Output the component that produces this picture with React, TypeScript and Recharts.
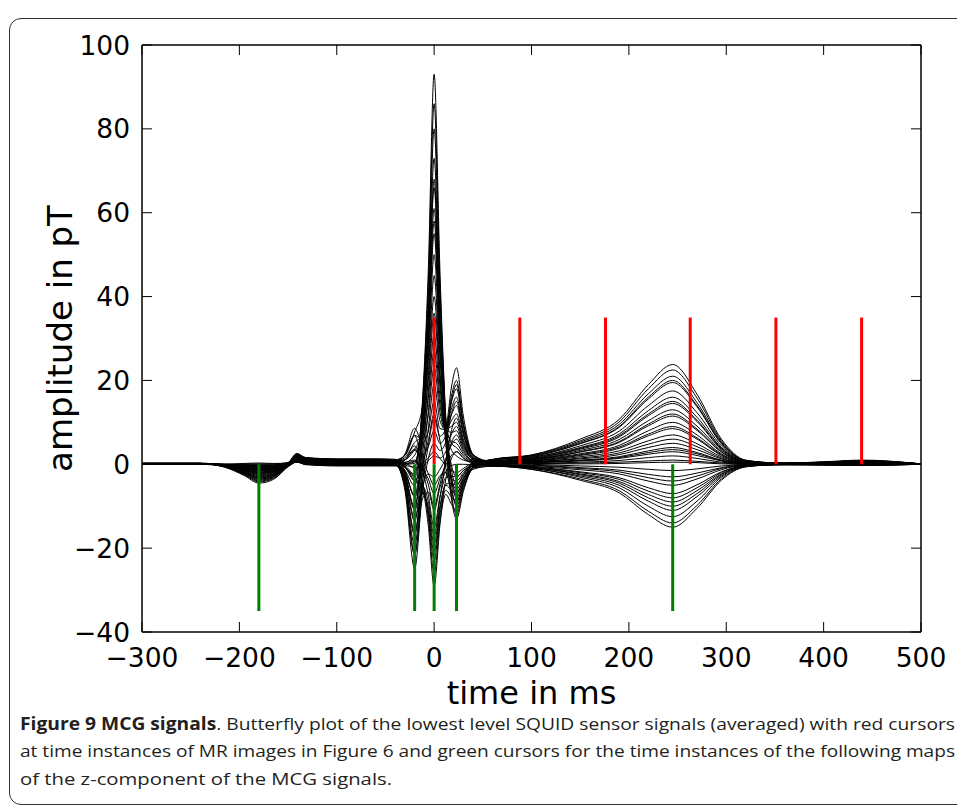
import { LineChart, Line, XAxis, YAxis, ReferenceLine, Label } from "recharts";

// sample times (ms) shared by every sensor trace
const times = [-300, -240, -215, -195, -180, -165, -150, -141, -132, -100, -60, -40, -30, -20, -12, -6, 0, 6, 12, 18, 23, 30, 40, 60, 100, 150, 190, 220, 245, 270, 295, 320, 360, 400, 440, 500];

// sensor traces in pT
const ch01 = [0.2, 0.2, -0.7, -2.7, -4.5, -3.6, -0.4, 1.8, 1.2, 1.0, 1.0, 0.9, -0.8, -2.3, 14.9, 46.2, 93, 46, 11, -5.2, -10, -5, -0.5, 1.1, 2.2, 6.0, 10.7, 19.0, 23.8, 16.7, 6.0, 1.0, 0.2, 0.5, 0.8, 0.1];
const ch02 = [0.2, 0.2, -0.6, -2.4, -4.0, -3.2, -0.1, 2.2, 1.5, 1.2, 1.2, 1.1, -0.2, -0.6, 14.3, 42.8, 86, 42.6, 10.5, -3.8, -8, -4, -0.2, 1.2, 2.2, 5.6, 10.1, 18.0, 22.5, 15.8, 5.6, 0.9, 0.3, 0.5, 0.9, 0.1];
const ch03 = [0.3, 0.3, -0.5, -2.2, -3.6, -2.9, 0.1, 2.6, 1.6, 1.1, 1.1, 1.0, 0.0, 0.2, 13.5, 39.9, 80, 39.8, 10.5, -1.6, -5, -2.5, 0.1, 1.1, 2.0, 5.3, 9.5, 16.8, 21, 14.7, 5.3, 0.8, 0.3, 0.6, 1.0, 0.1];
const ch04 = [0.2, 0.2, -0.5, -1.9, -3.2, -2.6, 0.0, 2.0, 1.2, 0.9, 0.9, 0.8, -1.4, -5.1, 10.7, 36.1, 73, 35.9, 7.4, -7.4, -12, -6, -0.8, 0.9, 1.8, 4.9, 8.8, 15.6, 19.5, 13.7, 4.9, 0.8, 0.2, 0.4, 0.7, 0.1];
const ch05 = [0.2, 0.2, -0.5, -1.8, -3.0, -2.4, -0.1, 1.6, 1.0, 0.8, 0.8, 0.7, 0.1, 0.6, 11.3, 32.9, 66, 32.9, 9.0, -0.4, -3, -1.5, 0.1, 0.8, 1.6, 4.4, 7.9, 14.0, 17.5, 12.3, 4.4, 0.7, 0.2, 0.4, 0.6, 0.1];
const ch06 = [0.2, 0.2, -0.4, -1.6, -2.7, -2.2, 0.2, 2.4, 1.6, 1.3, 1.3, 1.2, -1.6, -7.6, 8.0, 30.0, 61, 29.9, 5.3, -8.6, -13, -6.5, -0.7, 1.1, 1.7, 4.0, 7.2, 12.8, 16, 11.2, 4.0, 0.6, 0.3, 0.5, 0.9, 0.1];
const ch07 = [0.1, 0.1, -0.4, -1.5, -2.5, -2.0, -0.1, 1.2, 0.9, 0.7, 0.7, 0.6, 0.5, 2.2, 9.9, 27.5, 55, 27.6, 8.9, 3.3, 2, 1, 0.6, 0.7, 1.4, 3.6, 6.5, 11.6, 14.5, 10.2, 3.6, 0.6, 0.2, 0.3, 0.5, 0.1];
const ch08 = [0.2, 0.2, -0.3, -1.3, -2.2, -1.8, 0.1, 1.9, 1.3, 1.0, 1.0, 0.9, -0.6, -3.0, 7.5, 24.8, 50, 25.3, 9.0, 5.5, 5, 2.5, 1.0, 0.9, 1.3, 3.3, 5.9, 10.4, 13, 9.1, 3.3, 0.5, 0.2, 0.4, 0.6, 0.1];
const ch09 = [0.1, 0.1, -0.3, -1.2, -2.0, -1.6, 0.0, 1.4, 0.8, 0.6, 0.6, 0.5, -2.6, -10.2, 4.5, 21.9, 45, 22.2, 5.0, -3.5, -6, -3, -0.3, 0.6, 1.1, 2.9, 5.2, 9.2, 11.5, 8.1, 2.9, 0.5, 0.1, 0.2, 0.4, 0.0];
const ch10 = [0.2, 0.2, -0.3, -1.1, -1.8, -1.4, 0.3, 2.1, 1.3, 0.9, 0.9, 0.8, 1.1, 3.6, 7.8, 20.1, 40, 20.4, 8.4, 7.6, 8, 4, 1.3, 0.7, 1.1, 2.5, 4.5, 8.0, 10, 7.0, 2.5, 0.4, 0.2, 0.4, 0.7, 0.1];
const ch11 = [0.1, 0.1, -0.2, -0.9, -1.5, -1.2, 0.0, 1.0, 0.7, 0.5, 0.5, 0.5, -3.4, -13.6, 2.0, 17.3, 36, 18.5, 8.4, 9.1, 10, 5, 1.3, 0.5, 0.8, 2.1, 3.8, 6.8, 8.5, 6.0, 2.1, 0.3, 0.1, 0.2, 0.3, 0.0];
const ch12 = [0.2, 0.2, -0.2, -0.8, -1.3, -1.0, 0.3, 1.7, 1.1, 0.8, 0.8, 0.7, 1.6, 5.2, 6.8, 15.7, 31, 16.1, 8.3, 10.5, 12, 6, 1.6, 0.6, 0.8, 1.8, 3.2, 5.6, 7, 4.9, 1.8, 0.3, 0.2, 0.3, 0.5, 0.1];
const ch13 = [0.1, 0.1, -0.2, -0.7, -1.1, -0.9, 0.2, 1.3, 0.7, 0.4, 0.4, 0.4, -4.2, -16.9, -0.5, 12.6, 27, 14.2, 8.3, 12.0, 14, 7, 1.6, 0.4, 0.6, 1.5, 2.7, 4.8, 6, 4.2, 1.5, 0.2, 0.1, 0.1, 0.2, 0.0];
const ch14 = [0.2, 0.2, -0.1, -0.5, -0.9, -0.7, 0.4, 2.0, 1.3, 1.0, 1.0, 0.9, 2.2, 6.9, 5.9, 11.8, 23, 12.3, 8.3, 13.5, 16, 8, 2.1, 0.7, 0.7, 1.3, 2.3, 4.0, 5, 3.5, 1.3, 0.2, 0.2, 0.4, 0.6, 0.1];
const ch15 = [0.1, 0.1, -0.1, -0.4, -0.7, -0.6, 0.1, 0.9, 0.5, 0.3, 0.3, 0.3, -4.8, -19.2, -2.6, 8.5, 19, 10.4, 8.3, 15.0, 18, 9, 2.0, 0.3, 0.4, 1.0, 1.8, 3.2, 4, 2.8, 1.0, 0.2, 0.0, 0.1, 0.1, 0.0];
const ch16 = [0.2, 0.2, -0.1, -0.3, -0.5, -0.4, 0.4, 1.5, 0.9, 0.6, 0.6, 0.5, 2.4, 8.6, 5.1, 7.9, 15, 8.5, 8.3, 16.5, 20, 10, 2.3, 0.4, 0.4, 0.8, 1.4, 2.4, 3, 2.1, 0.8, 0.1, 0.1, 0.2, 0.4, 0.0];
const ch17 = [0.1, 0.1, 0.0, -0.2, -0.3, -0.2, 0.3, 1.1, 0.5, 0.2, 0.2, 0.2, -5.4, -21.6, -4.6, 4.4, 11, 6.7, 8.6, 18.7, 23, 11.5, 2.4, 0.2, 0.2, 0.5, 0.9, 1.6, 2, 1.4, 0.5, 0.1, 0.0, 0.0, 0.0, 0.0];
const ch18 = [0.1, 0.1, 0.0, -0.1, -0.1, -0.1, 0.2, 0.8, 0.6, 0.5, 0.5, 0.5, 1.1, 3.3, 2.3, 4.2, 8, 5.0, 6.9, 15.4, 19, 9.5, 2.2, 0.3, 0.2, 0.3, 0.5, 0.8, 1, 0.7, 0.3, 0.0, 0.1, 0.2, 0.3, 0.0];
const ch19 = [0.1, 0.1, 0.0, 0.1, 0.1, 0.1, 0.4, 1.2, 0.4, 0.1, 0.1, 0.1, -6.2, -24.8, -6.6, 1.3, 5, 3.3, 5.3, 12.2, 15, 7.5, 1.6, 0.1, 0.1, 0.1, 0.2, 0.4, 0.5, 0.4, 0.1, 0.0, 0.0, -0.1, -0.1, 0.0];
const ch20 = [0.1, 0.1, 0.0, 0.2, 0.3, 0.2, 0.3, 0.7, 0.5, 0.4, 0.4, 0.4, -0.7, -3.9, -0.8, 0.8, 2, 1.5, 3.0, 7.3, 9, 4.5, 1.1, 0.2, 0.0, -0.4, -0.7, -1.2, -1.5, -1.1, -0.4, -0.1, 0.1, 0.1, 0.2, 0.0];
const ch21 = [0.1, 0.1, 0.0, -0.1, -0.2, -0.2, 0.3, 1.0, 0.3, 0.0, 0.0, 0.0, -4.0, -16.1, -5.3, -2.3, -3, -1.2, 1.4, 4.7, 6, 3, 0.6, -0.1, -0.2, -0.8, -1.4, -2.4, -3, -2.1, -0.8, -0.1, 0.0, 0.0, 0.0, 0.0];
const ch22 = [0.1, 0.1, -0.1, -0.4, -0.6, -0.5, 0.1, 0.6, 0.0, -0.2, -0.2, -0.2, 0.1, 0.7, -1.0, -3.5, -7, -3.4, -0.2, 2.2, 3, 1.5, 0.2, -0.2, -0.5, -1.3, -2.3, -4.0, -5, -3.5, -1.3, -0.2, -0.1, -0.1, -0.2, 0.0];
const ch23 = [0.1, 0.1, -0.2, -0.6, -1.0, -0.8, 0.1, 0.9, 0.2, -0.1, -0.1, -0.1, -5.3, -21.4, -8.3, -6.6, -11, -5.5, -1.7, -0.3, 0, 0, -0.1, -0.2, -0.6, -1.8, -3.2, -5.6, -7, -4.9, -1.8, -0.3, 0.0, 0.1, 0.1, 0.0];
const ch24 = [0.0, 0.0, -0.2, -0.8, -1.4, -1.1, -0.1, 0.5, -0.1, -0.3, -0.3, -0.3, 1.0, 4.4, -1.2, -7.3, -15, -7.7, -3.2, -2.9, -3, -1.5, -0.5, -0.4, -0.8, -2.3, -4.1, -7.2, -9, -6.3, -2.3, -0.4, -0.1, -0.2, -0.3, 0.0];
const ch25 = [0.1, 0.1, -0.3, -1.1, -1.9, -1.5, -0.1, 0.8, 0.0, -0.4, -0.4, -0.4, -3.3, -12.8, -7.0, -10.1, -19, -9.9, -5.0, -6.2, -7, -3.5, -0.9, -0.5, -1.0, -2.8, -5.0, -8.8, -11, -7.7, -2.8, -0.4, 0.0, 0.0, 0.0, 0.0];
const ch26 = [0.1, 0.1, -0.4, -1.4, -2.4, -1.9, -0.3, 0.6, 0.3, 0.2, 0.2, 0.2, -0.6, -3.9, -5.0, -11.7, -23, -12.0, -6.2, -7.9, -9, -4.5, -0.8, -0.1, -0.9, -3.1, -5.6, -10.0, -12.5, -8.8, -3.1, -0.5, -0.1, -0.1, -0.2, 0.0];
const ch27 = [0.1, 0.1, -0.5, -2.0, -3.3, -2.6, -0.5, 0.7, 0.1, -0.2, -0.2, -0.2, 0.4, 1.0, -4.1, -12.9, -26, -13.6, -7.2, -9.6, -11, -5.5, -1.2, -0.4, -1.2, -3.5, -6.3, -11.2, -14, -9.8, -3.5, -0.6, 0.0, 0.1, 0.1, 0.0];
const ch28 = [0.0, 0.0, -0.6, -2.3, -3.8, -3.0, -0.6, 0.5, 0.2, 0.1, 0.1, 0.1, -0.4, -3.2, -5.8, -14.6, -29, -14.4, -3.5, 1.5, 3, 1.5, 0.4, -0.2, -1.2, -3.8, -6.8, -12.0, -15, -10.5, -3.8, -0.6, 0.0, -0.1, -0.1, 0.0];
const ch29 = [0.1, 0.1, -0.1, -0.5, -0.8, -0.6, 0.3, 1.4, 0.9, 0.7, 0.7, 0.6, 2.2, 6.8, 1.2, -2.2, -5, -2.7, -2.0, -3.4, -4, -2, 0.0, 0.6, 0.9, 2.3, 4.1, 7.2, 9, 6.3, 2.3, 0.4, 0.1, 0.2, 0.4, 0.0];
const ch30 = [0.1, 0.1, -0.2, -1.0, -1.6, -1.3, 0.0, 1.1, 0.5, 0.3, 0.3, 0.3, -1.8, -7.5, -0.2, 5.6, 12, 5.6, -0.9, -6.8, -9, -4.5, -0.8, 0.4, 1.1, 3.0, 5.4, 9.6, 12, 8.4, 3.0, 0.5, 0.2, 0.3, 0.5, 0.1];
const ch31 = [0.1, 0.1, -0.4, -1.7, -2.9, -2.3, -0.3, 0.9, 0.3, 0.0, 0.0, 0.0, 1.0, 3.6, -0.6, -4.8, -10, -4.7, 0.6, 5.3, 7, 3.5, 0.7, -0.1, -0.3, -1.0, -1.8, -3.2, -4, -2.8, -1.0, -0.2, 0.0, -0.1, -0.1, 0.0];
const ch32 = [0.2, 0.2, -0.5, -2.1, -3.5, -2.8, -0.2, 1.8, 0.9, 0.5, 0.5, 0.5, -2.9, -10.7, 6.5, 28.4, 58, 29.2, 9.9, 4.9, 4, 2, 0.7, 0.6, 1.4, 3.8, 6.8, 12.0, 15, 10.5, 3.8, 0.6, 0.2, 0.4, 0.6, 0.1];
const ch33 = [0.0, 0.0, -0.1, -0.2, -0.4, -0.3, 0.1, 0.6, 0.0, -0.3, -0.3, -0.3, -2.0, -7.7, -5.2, -8.9, -17, -8.0, 0.8, 8.3, 11, 5.5, 1.0, -0.3, -0.7, -2.0, -3.6, -6.4, -8, -5.6, -2.0, -0.3, -0.1, -0.1, -0.2, 0.0];
const ch34 = [0.2, 0.2, -0.3, -1.3, -2.1, -1.7, 0.3, 2.3, 1.5, 1.2, 1.2, 1.1, 2.1, 7.7, 13.7, 34.3, 68, 33.7, 8.1, -3.6, -7, -3.5, -0.1, 1.1, 2.0, 5.0, 9.0, 16.0, 20, 14.0, 5.0, 0.8, 0.2, 0.5, 0.8, 0.1];
const ch35 = [0.1, 0.1, -0.2, -0.7, -1.2, -1.0, 0.2, 1.6, 1.1, 0.9, 0.9, 0.8, 0.4, -0.9, 0.2, 1.5, 3, 1.4, -0.2, -1.5, -2, -1, 0.3, 0.6, 0.6, 0.9, 1.6, 2.8, 3.5, 2.5, 0.9, 0.1, 0.1, 0.2, 0.3, 0.0];
const ch36 = [0.1, 0.1, -0.6, -2.5, -4.2, -3.4, -0.5, 1.3, 0.7, 0.4, 0.4, 0.4, -2.2, -10.8, -6.8, -11.0, -21, -10.8, -4.7, -4.6, -5, -2.5, -0.3, 0.0, -0.7, -2.5, -4.5, -8.0, -10, -7.0, -2.5, -0.4, 0.0, 0.0, 0.0, 0.0];

const channels = [
    ch01, ch02, ch03, ch04, ch05, ch06, ch07, ch08, ch09, ch10, ch11, ch12,
    ch13, ch14, ch15, ch16, ch17, ch18, ch19, ch20, ch21, ch22, ch23, ch24,
    ch25, ch26, ch27, ch28, ch29, ch30, ch31, ch32, ch33, ch34, ch35, ch36,
];

// cursor times (ms) and their extent (pT)
const redCursors = [0, 88, 176, 263, 351, 439];
const redTop = 35;
const greenCursors = [-180, -20, 0, 23, 245];
const greenBottom = -35;

const xTicks = [-300, -200, -100, 0, 100, 200, 300, 400, 500];
const yTicks = [-40, -20, 0, 20, 40, 60, 80, 100];

const data = times.map((t, i) => {
    const row: Record<string, number> = { t };
    channels.forEach((ch, k) => {
        row[`c${k}`] = ch[i];
    });
    return row;
});

const FONT = "DejaVu Sans";
const fmt = (v: number) => (v < 0 ? `\u2212${Math.abs(v)}` : `${v}`);

const BottomTick = ({ x, y, payload }: any) => (
    <g>
        <line x1={x} x2={x} y1={y - 35} y2={y - 45} stroke="#000" strokeWidth={1} />
        <text x={x} y={y} textAnchor="middle" fontFamily={FONT} fontSize={26.5} fill="#000">
            {fmt(payload.value)}
        </text>
    </g>
);

const TopTick = ({ x }: any) => <line x1={x} x2={x} y1={45} y2={55} stroke="#000" strokeWidth={1} />;

const LeftTick = ({ x, y, payload }: any) => (
    <g>
        <line x1={x + 12} x2={x + 22} y1={y} y2={y} stroke="#000" strokeWidth={1} />
        <text x={x} y={y + 9.5} textAnchor="end" fontFamily={FONT} fontSize={26.5} fill="#000">
            {fmt(payload.value)}
        </text>
    </g>
);

const RightTick = ({ y }: any) => <line x1={921} x2={911} y1={y} y2={y} stroke="#000" strokeWidth={1} />;

const frame = { stroke: "#000", strokeWidth: 1.5 };

export default function App() {
    return (
        <div style={{ position: "absolute", left: 0, top: 0, width: 957, height: 808, background: "#fff", overflow: "hidden" }}>
            <div
                style={{
                    position: "absolute",
                    left: 9,
                    top: 18,
                    width: 990,
                    height: 787,
                    border: "1.5px solid #333",
                    borderRadius: 12,
                    boxSizing: "border-box",
                }}
            />
            <div style={{ position: "absolute", left: 0, top: 0 }}>
                <LineChart width={957} height={720} data={data} margin={{ top: 44, right: 35, bottom: 0, left: 0 }}>
                    <XAxis
                        dataKey="t"
                        type="number"
                        domain={[-300, 500]}
                        ticks={xTicks}
                        allowDataOverflow
                        height={88}
                        tickSize={0}
                        tickMargin={35}
                        tick={<BottomTick />}
                        axisLine={frame}
                        tickLine={false}
                    >
                        <Label
                            content={({ viewBox }: any) => (
                                <text
                                    x={viewBox.x + viewBox.width / 2}
                                    y={viewBox.y + 71.5}
                                    textAnchor="middle"
                                    fontFamily={FONT}
                                    fontSize={32}
                                    fill="#000"
                                >
                                    time in ms
                                </text>
                            )}
                        />
                    </XAxis>
                    <XAxis
                        xAxisId="top"
                        dataKey="t"
                        orientation="top"
                        type="number"
                        domain={[-300, 500]}
                        ticks={xTicks}
                        allowDataOverflow
                        height={1}
                        tickSize={0}
                        tickMargin={0}
                        tick={<TopTick />}
                        axisLine={frame}
                        tickLine={false}
                    />
                    <YAxis
                        type="number"
                        domain={[-40, 100]}
                        ticks={yTicks}
                        allowDataOverflow
                        width={142}
                        tickSize={0}
                        tickMargin={12}
                        tick={<LeftTick />}
                        axisLine={frame}
                        tickLine={false}
                    >
                        <Label
                            content={({ viewBox }: any) => {
                                const cx = 72;
                                const cy = viewBox.y + viewBox.height / 2;
                                return (
                                    <text
                                        x={cx}
                                        y={cy}
                                        textAnchor="middle"
                                        fontFamily={FONT}
                                        fontSize={34}
                                        fill="#000"
                                        transform={`rotate(-90, ${cx}, ${cy})`}
                                    >
                                        amplitude in pT
                                    </text>
                                );
                            }}
                        />
                    </YAxis>
                    <YAxis
                        yAxisId="right"
                        orientation="right"
                        type="number"
                        domain={[-40, 100]}
                        ticks={yTicks}
                        allowDataOverflow
                        width={1}
                        tickSize={0}
                        tickMargin={0}
                        tick={<RightTick />}
                        axisLine={frame}
                        tickLine={false}
                    />
                    {/* invisible series so the top and right frame axes are laid out */}
                    <Line
                        xAxisId="top"
                        yAxisId="right"
                        dataKey="c0"
                        stroke="none"
                        dot={false}
                        activeDot={false}
                        isAnimationActive={false}
                    />
                    {channels.map((_, k) => (
                        <Line
                            key={k}
                            dataKey={`c${k}`}
                            type="monotone"
                            stroke="#000"
                            strokeWidth={1}
                            dot={false}
                            activeDot={false}
                            isAnimationActive={false}
                        />
                    ))}
                    {redCursors.map((t) => (
                        <ReferenceLine
                            key={`r${t}`}
                            segment={[
                                { x: t, y: 0 },
                                { x: t, y: redTop },
                            ]}
                            stroke="#ff0000"
                            strokeWidth={3}
                        />
                    ))}
                    {greenCursors.map((t) => (
                        <ReferenceLine
                            key={`g${t}`}
                            segment={[
                                { x: t, y: 0 },
                                { x: t, y: greenBottom },
                            ]}
                            stroke="#008000"
                            strokeWidth={3}
                        />
                    ))}
                </LineChart>
            </div>
            <svg style={{ position: "absolute", left: 0, top: 700 }} width={957} height={100}>
                <text x={20} y={29.5} fontFamily="Open Sans" fontSize={17} fill="#231f20" textLength={935} lengthAdjust="spacingAndGlyphs">
                    <tspan fontWeight="bold">Figure 9 MCG signals</tspan>
                    <tspan>. Butterfly plot of the lowest level SQUID sensor signals (averaged) with red cursors</tspan>
                </text>
                <text x={20} y={57} fontFamily="Open Sans" fontSize={17} fill="#231f20" textLength={935} lengthAdjust="spacingAndGlyphs">
                    at time instances of MR images in Figure 6 and green cursors for the time instances of the following maps
                </text>
                <text x={20} y={84.5} fontFamily="Open Sans" fontSize={17} fill="#231f20" textLength={372} lengthAdjust="spacingAndGlyphs">
                    of the z-component of the MCG signals.
                </text>
            </svg>
        </div>
    );
}
